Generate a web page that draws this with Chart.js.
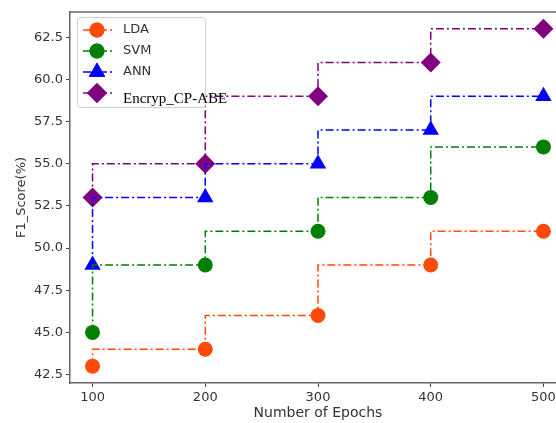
<!DOCTYPE html>
<html>
<head>
<meta charset="utf-8">
<script src="https://cdn.jsdelivr.net/npm/chart.js@4.4.0/dist/chart.umd.min.js"></script>
<style>
  html, body { margin: 0; padding: 0; background: #fff; overflow: hidden; }
  #wrap { position: relative; width: 580px; height: 423px; }
</style>
</head>
<body>
<div id="wrap"><canvas id="chart"></canvas></div>
<script>
// data
const epochs = [100, 200, 300, 400, 500];
const lda = [43, 44, 46, 49, 51];
const svm = [45, 49, 51, 53, 56];
const ann = [49, 53, 55, 57, 59];
const encryp = [53, 55, 59, 61, 63];
const yTicks = [42.5, 45, 47.5, 50, 52.5, 55, 57.5, 60, 62.5];

const dashDot = [8, 3, 2, 3];

const series = [
    { label: 'LDA', values: lda, color: '#ff4a0a', style: 'circle', radius: 7.5 },
    { label: 'SVM', values: svm, color: '#008000', style: 'circle', radius: 7.5 },
    { label: 'ANN', values: ann, color: '#0000ff', style: 'triangle', radius: 9.5 },
    { label: 'Encryp_CP-ABE', values: encryp, color: '#800080', style: 'rectRot', radius: 10 }
];

// top/right spines like matplotlib
const frame = {
    id: 'frame',
    beforeDatasetsDraw(chart) {
        const { ctx, chartArea: a } = chart;
        ctx.save();
        ctx.strokeStyle = '#666';
        ctx.lineWidth = 1.5;
        ctx.beginPath();
        ctx.moveTo(a.left, a.top);
        ctx.lineTo(a.right, a.top);
        ctx.lineTo(a.right, a.bottom);
        ctx.stroke();
        ctx.restore();
    }
};

// legend drawn inside the plot, matplotlib style
const insideLegend = {
    id: 'insideLegend',
    afterDraw(chart) {
        const ctx = chart.ctx;
        ctx.save();
        ctx.fillStyle = 'rgba(255,255,255,0.85)';
        ctx.strokeStyle = '#d0d0d0';
        ctx.lineWidth = 1;
        ctx.beginPath();
        ctx.roundRect(77.5, 17.5, 128, 90, 3);
        ctx.fill();
        ctx.stroke();

        const rows = [30, 51, 72, 93];
        series.forEach((s, i) => {
            const y = rows[i];
            ctx.strokeStyle = s.color;
            ctx.lineWidth = 1.5;
            ctx.setLineDash(dashDot);
            ctx.beginPath();
            ctx.moveTo(83, y);
            ctx.lineTo(112, y);
            ctx.stroke();
            ctx.setLineDash([]);
            ctx.fillStyle = s.color;
            Chart.helpers.drawPoint(ctx, {
                pointStyle: s.style,
                radius: s.radius,
                rotation: 0,
                borderWidth: 0
            }, 97, y);
            ctx.fill();
        });

        ctx.fillStyle = '#333';
        ctx.textBaseline = 'middle';
        ctx.font = '13px "DejaVu Sans"';
        ctx.fillText('LDA', 123, 30);
        ctx.fillText('SVM', 123, 51);
        ctx.fillText('ANN', 123, 72);
        ctx.fillStyle = '#000';
        ctx.font = '15px "Liberation Serif"';
        ctx.fillText('Encryp_CP-ABE', 123, 99);
        ctx.restore();
    }
};

new Chart(document.getElementById('chart'), {
    type: 'line',
    data: {
        datasets: series.map(s => ({
            label: s.label,
            data: epochs.map((x, i) => ({ x: x, y: s.values[i] })),
            borderColor: s.color,
            backgroundColor: s.color,
            borderWidth: 1.5,
            borderDash: dashDot,
            stepped: 'after',
            pointStyle: s.style,
            pointRadius: s.radius,
            pointBorderWidth: 0,
            fill: false
        }))
    },
    options: {
        responsive: true,
        maintainAspectRatio: false,
        animation: false,
        layout: { padding: { top: 12, right: 14, left: 0, bottom: 0 } },
        plugins: {
            legend: { display: false },
            tooltip: { enabled: false }
        },
        scales: {
            x: {
                type: 'linear',
                min: 80,
                max: 520,
                afterBuildTicks: axis => { axis.ticks = epochs.map(v => ({ value: v })); },
                afterFit: axis => { axis.height = 40; },
                grid: { drawOnChartArea: false, drawTicks: true, tickLength: 4, color: '#444' },
                border: { color: '#666', width: 1.5 },
                ticks: { color: '#333', font: { family: 'DejaVu Sans', size: 13 }, padding: 3, maxRotation: 0 },
                title: {
                    display: true,
                    text: 'Number of Epochs',
                    color: '#333',
                    font: { family: 'DejaVu Sans', size: 14 },
                    padding: { top: 0, bottom: 1 }
                }
            },
            y: {
                type: 'linear',
                min: 42,
                max: 64,
                afterBuildTicks: axis => { axis.ticks = yTicks.map(v => ({ value: v })); },
                afterFit: axis => { axis.width = 70; },
                grid: { drawOnChartArea: false, drawTicks: true, tickLength: 4, color: '#444' },
                border: { color: '#666', width: 1.5 },
                ticks: {
                    color: '#333',
                    font: { family: 'DejaVu Sans', size: 13 },
                    padding: 3,
                    callback: v => v.toFixed(1)
                },
                title: {
                    display: true,
                    text: 'F1_Score(%)',
                    color: '#333',
                    font: { family: 'DejaVu Sans', size: 13 },
                    padding: { top: 14, bottom: 0 }
                }
            }
        }
    },
    plugins: [frame, insideLegend]
});
</script>
</body>
</html>
